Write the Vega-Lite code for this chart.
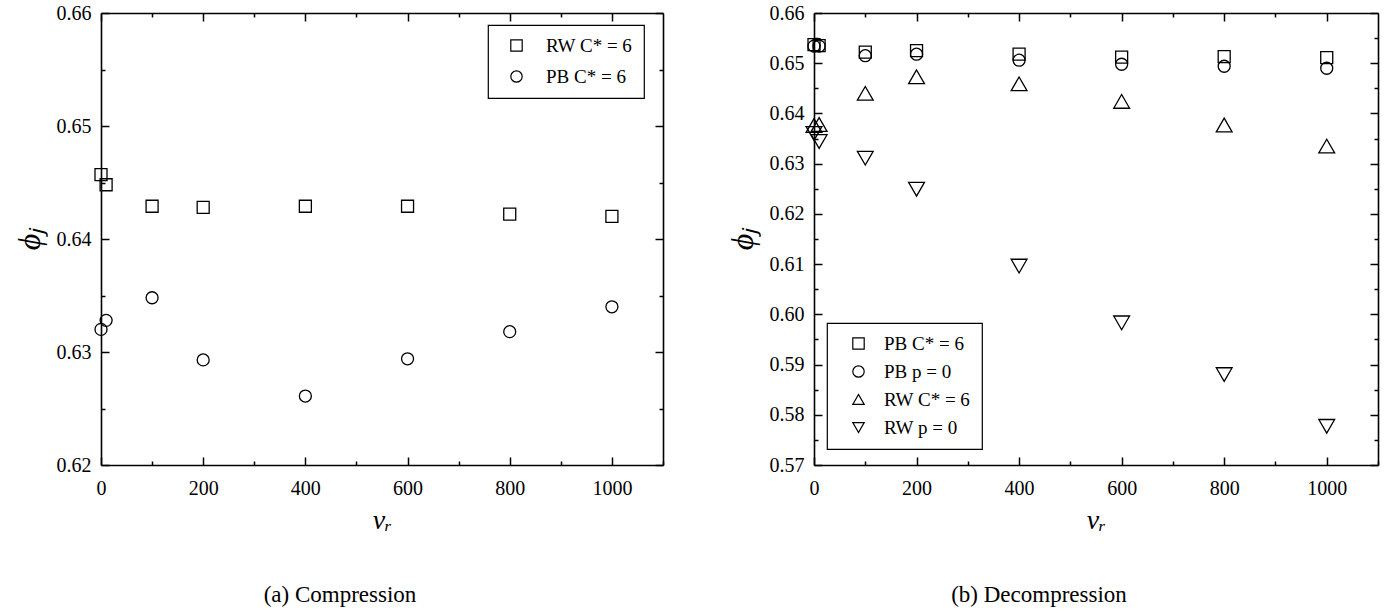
{
  "$schema": "https://vega.github.io/schema/vega-lite/v6.json",
  "padding": {"left": 13, "top": 3, "right": 5, "bottom": 5},
  "background": "white",
  "datasets": {
    "compression": [
      {"series": "RW C* = 6", "vr": 0, "phi": 0.6457},
      {"series": "RW C* = 6", "vr": 10, "phi": 0.6448},
      {"series": "RW C* = 6", "vr": 100, "phi": 0.6429},
      {"series": "RW C* = 6", "vr": 200, "phi": 0.6428},
      {"series": "RW C* = 6", "vr": 400, "phi": 0.6429},
      {"series": "RW C* = 6", "vr": 600, "phi": 0.6429},
      {"series": "RW C* = 6", "vr": 800, "phi": 0.6422},
      {"series": "RW C* = 6", "vr": 1000, "phi": 0.6420},
      {"series": "PB C* = 6", "vr": 0, "phi": 0.6320},
      {"series": "PB C* = 6", "vr": 10, "phi": 0.6328},
      {"series": "PB C* = 6", "vr": 100, "phi": 0.6348},
      {"series": "PB C* = 6", "vr": 200, "phi": 0.6293},
      {"series": "PB C* = 6", "vr": 400, "phi": 0.6261},
      {"series": "PB C* = 6", "vr": 600, "phi": 0.6294},
      {"series": "PB C* = 6", "vr": 800, "phi": 0.6318},
      {"series": "PB C* = 6", "vr": 1000, "phi": 0.6340}
    ],
    "decompression": [
      {"series": "PB C* = 6", "vr": 0, "phi": 0.6537},
      {"series": "PB C* = 6", "vr": 10, "phi": 0.6535},
      {"series": "PB C* = 6", "vr": 100, "phi": 0.6522},
      {"series": "PB C* = 6", "vr": 200, "phi": 0.6525},
      {"series": "PB C* = 6", "vr": 400, "phi": 0.6518},
      {"series": "PB C* = 6", "vr": 600, "phi": 0.6512},
      {"series": "PB C* = 6", "vr": 800, "phi": 0.6513},
      {"series": "PB C* = 6", "vr": 1000, "phi": 0.6511},
      {"series": "PB p = 0", "vr": 0, "phi": 0.6534},
      {"series": "PB p = 0", "vr": 10, "phi": 0.6534},
      {"series": "PB p = 0", "vr": 100, "phi": 0.6515},
      {"series": "PB p = 0", "vr": 200, "phi": 0.6518},
      {"series": "PB p = 0", "vr": 400, "phi": 0.6506},
      {"series": "PB p = 0", "vr": 600, "phi": 0.6498},
      {"series": "PB p = 0", "vr": 800, "phi": 0.6494},
      {"series": "PB p = 0", "vr": 1000, "phi": 0.6490},
      {"series": "RW C* = 6", "vr": 0, "phi": 0.6376},
      {"series": "RW C* = 6", "vr": 10, "phi": 0.6378},
      {"series": "RW C* = 6", "vr": 100, "phi": 0.6440},
      {"series": "RW C* = 6", "vr": 200, "phi": 0.6473},
      {"series": "RW C* = 6", "vr": 400, "phi": 0.6459},
      {"series": "RW C* = 6", "vr": 600, "phi": 0.6424},
      {"series": "RW C* = 6", "vr": 800, "phi": 0.6377},
      {"series": "RW C* = 6", "vr": 1000, "phi": 0.6335},
      {"series": "RW p = 0", "vr": 0, "phi": 0.6360},
      {"series": "RW p = 0", "vr": 10, "phi": 0.6344},
      {"series": "RW p = 0", "vr": 100, "phi": 0.6311},
      {"series": "RW p = 0", "vr": 200, "phi": 0.6249},
      {"series": "RW p = 0", "vr": 400, "phi": 0.6096},
      {"series": "RW p = 0", "vr": 600, "phi": 0.5983},
      {"series": "RW p = 0", "vr": 800, "phi": 0.5880},
      {"series": "RW p = 0", "vr": 1000, "phi": 0.5777}
    ]
  },
  "spacing": 62,
  "resolve": {"scale": {"x": "independent", "y": "independent", "shape": "independent"}},
  "hconcat": [
    {
      "width": 562,
      "height": 452,
      "title": {"text": "(a) Compression", "orient": "bottom", "offset": 50, "dx": -42},
      "data": {"name": "compression"},
      "resolve": {"axis": {"x": "independent", "y": "independent"}},
      "layer": [
        {
          "mark": {"type": "point", "filled": false, "color": "black", "opacity": 1, "strokeWidth": 1.3, "size": 144},
          "encoding": {
            "x": {"field": "vr", "type": "quantitative",
                  "scale": {"domain": [0, 1100], "nice": false, "zero": false},
                  "axis": {"orient": "bottom", "values": [0, 200, 400, 600, 800, 1000], "format": "d", "tickSize": -8, "labelPadding": 21, "title": "vᵣ", "titleFontSize": 28, "titlePadding": 8}},
            "y": {"field": "phi", "type": "quantitative",
                  "scale": {"domain": [0.62, 0.66], "nice": false, "zero": false},
                  "axis": {"orient": "left", "values": [0.62, 0.63, 0.64, 0.65, 0.66], "format": ".2f", "tickSize": -8, "labelPadding": 18, "title": "ϕⱼ", "titleFontSize": 32, "titlePadding": 10}},
            "shape": {"field": "series", "type": "nominal",
                      "scale": {"domain": ["RW C* = 6", "PB C* = 6"], "range": ["square", "circle"]},
                      "legend": {"orient": "none", "legendX": 387, "legendY": 12, "rowPadding": 11, "padding": 11, "symbolOffset": 8, "labelOffset": 20}}
          }
        },
        {
          "mark": {"type": "point", "opacity": 0},
          "encoding": {
            "x": {"field": "vr", "type": "quantitative", "scale": {"domain": [0, 1100], "nice": false, "zero": false},
                  "axis": {"orient": "bottom", "values": [100, 300, 500, 700, 900, 1100], "tickSize": -4, "labels": false, "domain": false, "title": null}},
            "y": {"field": "phi", "type": "quantitative", "scale": {"domain": [0.62, 0.66], "nice": false, "zero": false},
                  "axis": {"orient": "left", "values": [0.625, 0.635, 0.645, 0.655], "tickSize": -4, "labels": false, "domain": false, "title": null}}
          }
        },
        {
          "mark": {"type": "point", "opacity": 0},
          "encoding": {
            "x": {"field": "vr", "type": "quantitative", "scale": {"domain": [0, 1100], "nice": false, "zero": false},
                  "axis": {"orient": "top", "values": [0, 200, 400, 600, 800, 1000], "tickSize": -8, "labels": false, "title": null}},
            "y": {"field": "phi", "type": "quantitative", "scale": {"domain": [0.62, 0.66], "nice": false, "zero": false},
                  "axis": {"orient": "right", "values": [0.62, 0.63, 0.64, 0.65, 0.66], "tickSize": -8, "labels": false, "title": null}}
          }
        },
        {
          "mark": {"type": "point", "opacity": 0},
          "encoding": {
            "x": {"field": "vr", "type": "quantitative", "scale": {"domain": [0, 1100], "nice": false, "zero": false},
                  "axis": {"orient": "top", "values": [100, 300, 500, 700, 900], "tickSize": -4, "labels": false, "domain": false, "title": null}},
            "y": {"field": "phi", "type": "quantitative", "scale": {"domain": [0.62, 0.66], "nice": false, "zero": false},
                  "axis": {"orient": "right", "values": [0.625, 0.635, 0.645, 0.655], "tickSize": -4, "labels": false, "domain": false, "title": null}}
          }
        }
      ]
    },
    {
      "width": 564,
      "height": 452,
      "title": {"text": "(b) Decompression", "orient": "bottom", "offset": 50, "dx": -57},
      "data": {"name": "decompression"},
      "resolve": {"axis": {"x": "independent", "y": "independent"}},
      "layer": [
        {
          "mark": {"type": "point", "filled": false, "color": "black", "opacity": 1, "strokeWidth": 1.3},
          "encoding": {
            "x": {"field": "vr", "type": "quantitative",
                  "scale": {"domain": [0, 1100], "nice": false, "zero": false},
                  "axis": {"orient": "bottom", "values": [0, 200, 400, 600, 800, 1000], "format": "d", "tickSize": -8, "labelPadding": 21, "title": "vᵣ", "titleFontSize": 28, "titlePadding": 8}},
            "y": {"field": "phi", "type": "quantitative",
                  "scale": {"domain": [0.57, 0.66], "nice": false, "zero": false},
                  "axis": {"orient": "left", "values": [0.57, 0.58, 0.59, 0.60, 0.61, 0.62, 0.63, 0.64, 0.65, 0.66], "format": ".2f", "tickSize": -8, "labelPadding": 18, "title": "ϕⱼ", "titleFontSize": 32, "titlePadding": 10}},
            "shape": {"field": "series", "type": "nominal",
                      "scale": {"domain": ["PB C* = 6", "PB p = 0", "RW C* = 6", "RW p = 0"], "range": ["square", "circle", "triangle-up", "triangle-down"]},
                      "legend": {"orient": "none", "legendX": 13, "legendY": 310, "rowPadding": 8, "padding": 11, "symbolOffset": 11, "labelOffset": 16}},
            "size": {"condition": {"test": "datum.series === 'RW C* = 6' || datum.series === 'RW p = 0'", "value": 250}, "value": 144}
          }
        },
        {
          "mark": {"type": "point", "opacity": 0},
          "encoding": {
            "x": {"field": "vr", "type": "quantitative", "scale": {"domain": [0, 1100], "nice": false, "zero": false},
                  "axis": {"orient": "bottom", "values": [100, 300, 500, 700, 900, 1100], "tickSize": -4, "labels": false, "domain": false, "title": null}},
            "y": {"field": "phi", "type": "quantitative", "scale": {"domain": [0.57, 0.66], "nice": false, "zero": false},
                  "axis": {"orient": "left", "values": [0.575, 0.585, 0.595, 0.605, 0.615, 0.625, 0.635, 0.645, 0.655], "tickSize": -4, "labels": false, "domain": false, "title": null}}
          }
        },
        {
          "mark": {"type": "point", "opacity": 0},
          "encoding": {
            "x": {"field": "vr", "type": "quantitative", "scale": {"domain": [0, 1100], "nice": false, "zero": false},
                  "axis": {"orient": "top", "values": [0, 200, 400, 600, 800, 1000], "tickSize": -8, "labels": false, "title": null}},
            "y": {"field": "phi", "type": "quantitative", "scale": {"domain": [0.57, 0.66], "nice": false, "zero": false},
                  "axis": {"orient": "right", "values": [0.57, 0.58, 0.59, 0.60, 0.61, 0.62, 0.63, 0.64, 0.65, 0.66], "tickSize": -8, "labels": false, "title": null}}
          }
        },
        {
          "mark": {"type": "point", "opacity": 0},
          "encoding": {
            "x": {"field": "vr", "type": "quantitative", "scale": {"domain": [0, 1100], "nice": false, "zero": false},
                  "axis": {"orient": "top", "values": [100, 300, 500, 700, 900], "tickSize": -4, "labels": false, "domain": false, "title": null}},
            "y": {"field": "phi", "type": "quantitative", "scale": {"domain": [0.57, 0.66], "nice": false, "zero": false},
                  "axis": {"orient": "right", "values": [0.575, 0.585, 0.595, 0.605, 0.615, 0.625, 0.635, 0.645, 0.655], "tickSize": -4, "labels": false, "domain": false, "title": null}}
          }
        }
      ]
    }
  ],
  "config": {
    "view": {"stroke": null},
    "font": "Liberation Serif",
    "axis": {
      "grid": false, "domainColor": "black", "domainWidth": 1.6, "tickColor": "black", "tickWidth": 1.5,
      "labelColor": "black", "labelFont": "Liberation Serif", "labelFontSize": 20, "labelFlush": false,
      "titleFont": "Liberation Serif", "titleColor": "black", "titleFontWeight": "normal", "titleFontStyle": "italic"
    },
    "legend": {
      "title": null, "strokeColor": "black", "fillColor": "white", "cornerRadius": 0, "strokeWidth": 1.2,
      "labelFont": "Liberation Serif", "labelFontSize": 19, "labelColor": "black",
      "symbolSize": 130, "symbolStrokeColor": "black", "symbolStrokeWidth": 1.2, "symbolFillColor": "transparent"
    },
    "title": {"font": "Liberation Serif", "fontSize": 23, "fontWeight": "normal", "color": "black"}
  }
}
